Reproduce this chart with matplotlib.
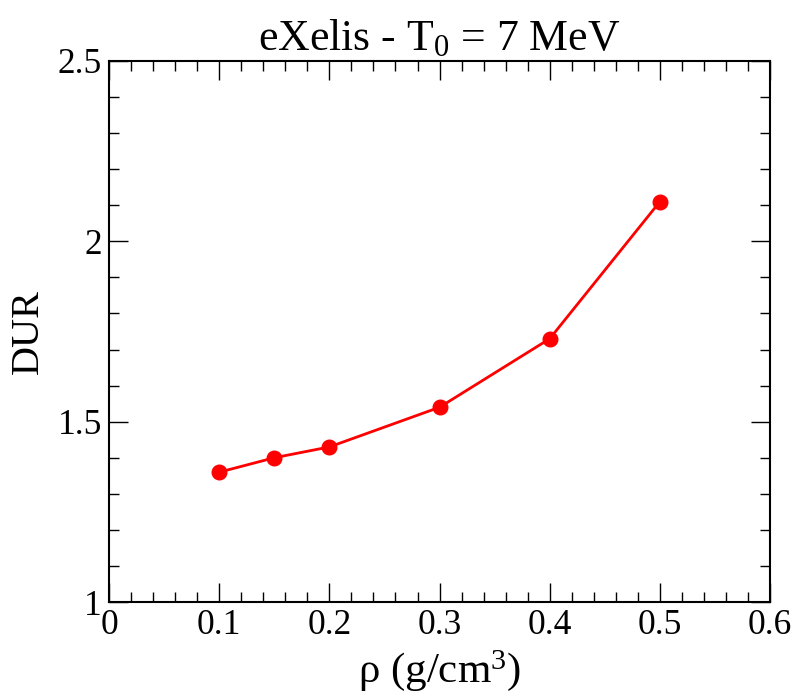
import numpy as np
import matplotlib
matplotlib.use("Agg")
import matplotlib.pyplot as plt
from matplotlib.ticker import MultipleLocator

plt.rcParams["font.family"] = ["Liberation Serif", "DejaVu Serif"]
plt.rcParams["mathtext.fontset"] = "custom"
plt.rcParams["mathtext.rm"] = "Liberation Serif"
plt.rcParams["mathtext.it"] = "Liberation Serif:italic"

# === data ===
rho = [0.1, 0.15, 0.2, 0.3, 0.4, 0.5]
dur = [1.36, 1.40, 1.43, 1.54, 1.73, 2.11]

fig = plt.figure(figsize=(7.98, 6.96), dpi=100)
ax = fig.add_axes([0.1366, 0.135, 0.8284, 0.7774])

ax.plot(rho, dur, color="red", lw=2.0, marker="o", ms=10.5, zorder=3)

ax.set_xlim(0, 0.6)
ax.set_ylim(1, 2.5)
ax.xaxis.set_minor_locator(MultipleLocator(0.02))
ax.yaxis.set_minor_locator(MultipleLocator(0.1))
ax.set_xticks([0, 0.1, 0.2, 0.3, 0.4, 0.5, 0.6])
ax.set_xticklabels(["0", "0.1", "0.2", "0.3", "0.4", "0.5", "0.6"])
ax.set_yticks([1, 1.5, 2, 2.5])
ax.set_yticklabels(["1", "1.5", "2", "2.5"])

ax.tick_params(which="both", direction="in", top=True, right=True,
               labelsize=25.5, width=1.0)
ax.tick_params(which="major", length=14, pad=5)
ax.tick_params(which="minor", length=7)
for s in ax.spines.values():
    s.set_linewidth(1.5)

ax.set_title(r"eXelis - T$_0$ = 7 MeV", fontsize=31.5, pad=8)
ax.set_xlabel(r"ρ (g/cm$^3$)", fontsize=31, labelpad=4)
ax.set_ylabel("DUR", fontsize=29, labelpad=8)

fig.savefig("out.png", dpi=100)
